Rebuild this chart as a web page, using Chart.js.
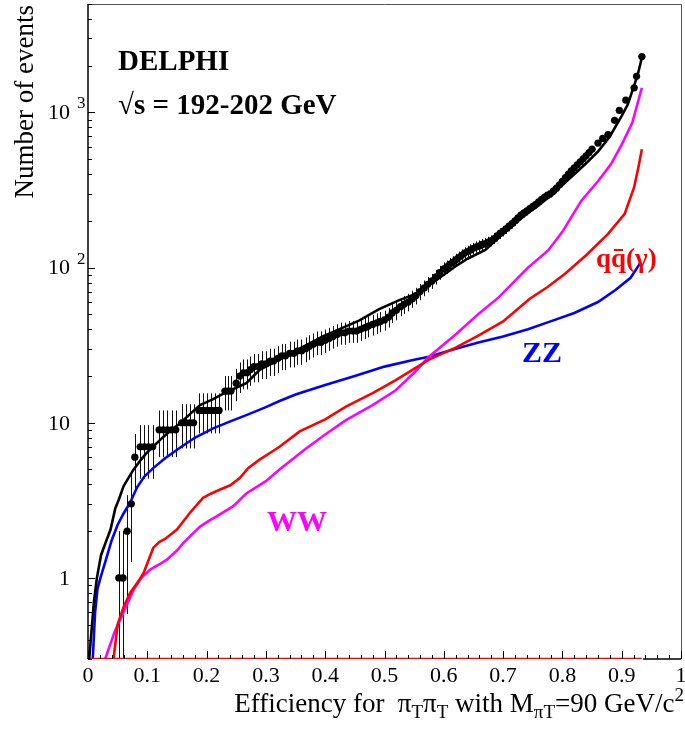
<!DOCTYPE html>
<html>
<head>
<meta charset="utf-8">
<script src="https://cdn.jsdelivr.net/npm/chart.js@4.4.0/dist/chart.umd.min.js"></script>
<style>
  html, body { margin: 0; padding: 0; background: #fff; }
</style>
</head>
<body>
<canvas id="effChart" width="685" height="729"></canvas>
<script>
// observed data (DELPHI, 192-202 GeV)
const dataEff = [
  0.052, 0.059, 0.066, 0.073, 0.079, 0.088, 0.095, 0.102, 0.109,
  0.120, 0.127, 0.134, 0.141, 0.148, 0.158, 0.165, 0.172, 0.178,
  0.187, 0.194, 0.201, 0.208, 0.215, 0.221, 0.231, 0.236, 0.241,
  0.250, 0.256, 0.262, 0.268, 0.274, 0.280, 0.287, 0.293, 0.300,
  0.307, 0.313, 0.320, 0.327, 0.333, 0.340, 0.347, 0.353, 0.360,
  0.367, 0.373, 0.380, 0.387, 0.393, 0.400, 0.407, 0.413, 0.420,
  0.427, 0.433, 0.440, 0.447, 0.453, 0.460, 0.467, 0.473, 0.480,
  0.487, 0.493, 0.500, 0.507, 0.513, 0.520, 0.527, 0.533, 0.540,
  0.547, 0.553, 0.560, 0.567, 0.573, 0.580, 0.587, 0.593, 0.600,
  0.605, 0.610, 0.615, 0.620, 0.625, 0.630, 0.635, 0.640, 0.645,
  0.650, 0.655, 0.660, 0.665, 0.670, 0.675, 0.680, 0.685, 0.690,
  0.695, 0.700, 0.705, 0.710, 0.715, 0.720, 0.725, 0.730, 0.735,
  0.740, 0.745, 0.750, 0.755, 0.760, 0.765, 0.770, 0.775, 0.780,
  0.785, 0.790, 0.795, 0.800, 0.805, 0.810, 0.815, 0.820, 0.825,
  0.830, 0.835, 0.840, 0.845, 0.850, 0.860, 0.868,
  0.877, 0.888, 0.896, 0.907, 0.921, 0.925, 0.934
];
const dataEvents = [
  1, 1, 2, 3, 6, 7, 7, 7, 7,
  9, 9, 9, 9, 9, 10, 10, 10, 10,
  12, 12, 12, 12, 12, 12, 16, 16, 16,
  18, 20, 21, 21, 22, 23, 23, 24, 24,
  25, 25, 26, 27, 27, 28, 28, 29, 29,
  30, 31, 32, 33, 33, 34, 35, 36, 37,
  38, 38, 39, 39, 39, 40, 41, 42, 43,
  44, 45, 46, 48, 51, 53, 56, 58, 60,
  63, 66, 70, 74, 78, 82, 87, 93, 98,
  101, 105, 108, 112, 116, 120, 124, 127, 130,
  133, 136, 138, 141, 143, 146, 149, 154, 160,
  166, 172, 178, 185, 192, 200, 209, 218, 225,
  232, 240, 248, 256, 265, 275, 285, 293, 300,
  312, 325, 342, 360, 380, 400, 420, 440, 460,
  480, 502, 525, 552, 580, 635, 680,
  720, 890, 1030, 1200, 1440, 1710, 2290
];

// total simulation
const totalEff = [0.002, 0.010, 0.015, 0.022, 0.030, 0.038, 0.046, 0.052, 0.060, 0.068, 0.077,
  0.088, 0.099, 0.113, 0.127, 0.141, 0.155, 0.170, 0.189, 0.211, 0.230, 0.250, 0.267, 0.290,
  0.323, 0.360, 0.396, 0.430, 0.457, 0.491, 0.524, 0.558, 0.575, 0.600, 0.620, 0.640, 0.670,
  0.700, 0.720, 0.740, 0.760, 0.780, 0.800, 0.820, 0.840, 0.860, 0.880, 0.900, 0.910, 0.920,
  0.927, 0.934];
const totalEvents = [0.3, 0.7, 1.0, 1.4, 1.7, 2.05, 2.8, 3.2, 3.9, 4.4, 5.0,
  5.7, 6.4, 7.2, 8.1, 9.0, 9.9, 11.2, 13.0, 14.2, 15.5, 16.8, 18.0, 22.0,
  25.5, 30.5, 36.0, 41.0, 45.5, 54.0, 61.5, 69.0, 77.0, 90.0, 102, 114, 130,
  165, 192, 222, 252, 290, 340, 400, 470, 560, 700, 950, 1120, 1450,
  1750, 2250];

// ZZ
const zzEff = [0.008, 0.012, 0.016, 0.021, 0.030, 0.040, 0.050, 0.060, 0.071, 0.083, 0.095,
  0.110, 0.130, 0.155, 0.180, 0.211, 0.240, 0.267, 0.300, 0.323, 0.350, 0.400, 0.450, 0.500,
  0.550, 0.575, 0.620, 0.660, 0.700, 0.742, 0.780, 0.820, 0.860, 0.890, 0.915, 0.932];
const zzEvents = [0.3, 0.6, 0.85, 1.0, 1.3, 1.75, 2.2, 2.6, 3.05, 3.85, 4.5,
  5.1, 5.9, 6.9, 8.0, 9.2, 10.2, 11.2, 12.6, 13.8, 15.2, 17.5, 20.0, 23.0,
  25.5, 26.6, 30.0, 33.0, 36.0, 40.0, 45.0, 51.0, 60.0, 72.0, 86.0, 108];

// q qbar (gamma)
const qqEff = [0.043, 0.050, 0.060, 0.071, 0.085, 0.094, 0.102, 0.110, 0.120, 0.130, 0.150,
  0.172, 0.194, 0.208, 0.222, 0.240, 0.256, 0.270, 0.290, 0.310, 0.323, 0.357, 0.400, 0.435,
  0.480, 0.519, 0.575, 0.620, 0.659, 0.700, 0.745, 0.775, 0.804, 0.840, 0.877, 0.905, 0.921,
  0.928, 0.934];
const qqEvents = [0.3, 0.5, 0.65, 0.8, 0.95, 1.08, 1.3, 1.56, 1.7, 1.78, 2.05,
  2.63, 3.28, 3.5, 3.7, 3.95, 4.4, 5.1, 5.8, 6.5, 7.0, 8.8, 10.5, 12.7,
  15.5, 18.8, 25.5, 30.5, 36.6, 45.0, 63.0, 75.0, 91.0, 120, 165, 222, 330,
  440, 580];

// WW
const wwEff = [0.029, 0.045, 0.060, 0.077, 0.090, 0.105, 0.120, 0.133, 0.150, 0.161, 0.175,
  0.189, 0.205, 0.217, 0.232, 0.245, 0.267, 0.300, 0.323, 0.365, 0.400, 0.435, 0.480, 0.519,
  0.550, 0.575, 0.620, 0.659, 0.692, 0.742, 0.776, 0.800, 0.832, 0.860, 0.882, 0.900, 0.918,
  0.934];
const wwEvents = [0.3, 0.45, 0.6, 0.84, 1.0, 1.13, 1.22, 1.31, 1.5, 1.68, 1.9,
  2.14, 2.35, 2.49, 2.7, 2.9, 3.5, 4.2, 5.0, 6.7, 8.4, 10.4, 13.0, 16.2,
  21.0, 26.6, 37.0, 50.5, 64.0, 100, 129, 170, 270, 360, 465, 620, 860,
  1443];

// axes
const xMin = 0, xMax = 1;
const yMin = 0.3, yMax = 5000;
const xTickValues = [0, 0.1, 0.2, 0.3, 0.4, 0.5, 0.6, 0.7, 0.8, 0.9, 1];
const xTickLabels = ["0", "0.1", "0.2", "0.3", "0.4", "0.5", "0.6", "0.7", "0.8", "0.9", "1"];
const yTickValues = [1, 10, 100, 1000];
const yTickLabels = ["1", "10", "10", "10"];
const yTickExponents = ["", "", "2", "3"];

const SERIF = "'Liberation Serif', 'Times New Roman', serif";

function toPoints(xs, ys) {
  return xs.map((x, i) => ({ x: x, y: ys[i] }));
}

function curve(xs, ys, color, order) {
  return {
    data: toPoints(xs, ys),
    showLine: true,
    borderColor: color,
    backgroundColor: color,
    borderWidth: 2.6,
    pointRadius: 0,
    tension: 0,
    clip: 0,
    order: order,
  };
}

// error bars, frame, ticks and all the text drawn ROOT style
const rootStyle = {
  id: "rootStyle",
  beforeDatasetsDraw(chart) {
    const { ctx, chartArea, scales } = chart;
    const xs = scales.x, ys = scales.y;
    ctx.save();
    ctx.beginPath();
    ctx.rect(chartArea.left, chartArea.top, chartArea.width, chartArea.height);
    ctx.clip();
    ctx.strokeStyle = "#111";
    ctx.lineWidth = 1;
    dataEff.forEach((e, i) => {
      const n = dataEvents[i];
      const err = Math.sqrt(n);
      const px = Math.round(xs.getPixelForValue(e)) + 0.5;
      const lo = n - err > 0 ? ys.getPixelForValue(n - err) : chartArea.bottom + 5;
      const hi = ys.getPixelForValue(n + err);
      ctx.beginPath();
      ctx.moveTo(px, lo);
      ctx.lineTo(px, hi);
      const py = ys.getPixelForValue(n);
      ctx.moveTo(xs.getPixelForValue(e - 0.006), py);
      ctx.lineTo(xs.getPixelForValue(e + 0.006), py);
      ctx.stroke();
    });
    ctx.restore();
  },
  afterDraw(chart) {
    const { ctx, chartArea, scales } = chart;
    const xs = scales.x, ys = scales.y;
    const L = chartArea.left, R = chartArea.right, T = chartArea.top, B = chartArea.bottom;
    ctx.save();

    // frame
    ctx.strokeStyle = "#555";
    ctx.lineWidth = 1;
    ctx.beginPath();
    ctx.moveTo(L, T + 0.5);
    ctx.lineTo(R + 0.5, T + 0.5);
    ctx.lineTo(R + 0.5, B);
    ctx.stroke();
    ctx.strokeStyle = "#000";
    ctx.lineWidth = 1.5;
    ctx.beginPath();
    ctx.moveTo(L, T);
    ctx.lineTo(L, B);
    ctx.stroke();
    ctx.beginPath();
    ctx.moveTo(xs.getPixelForValue(0.936), B);
    ctx.lineTo(R, B);
    ctx.stroke();

    // x ticks (inside)
    ctx.lineWidth = 1;
    for (let k = 0; k <= 50; k++) {
      const v = k * 0.02;
      const px = Math.round(xs.getPixelForValue(v)) + 0.5;
      const len = k % 5 === 0 ? 8 : 4;
      ctx.beginPath();
      ctx.moveTo(px, B);
      ctx.lineTo(px, B - len);
      ctx.stroke();
    }
    // y ticks (inside)
    for (let d = -1; d <= 3; d++) {
      for (let m = 1; m <= 9; m++) {
        const v = m * Math.pow(10, d);
        if (v < yMin || v > yMax) continue;
        const py = Math.round(ys.getPixelForValue(v)) + 0.5;
        const len = m === 1 ? 7 : 4;
        ctx.beginPath();
        ctx.moveTo(L, py);
        ctx.lineTo(L + len, py);
        ctx.stroke();
      }
    }

    // tick labels
    ctx.fillStyle = "#000";
    ctx.font = "22px " + SERIF;
    ctx.textAlign = "center";
    ctx.textBaseline = "middle";
    xTickValues.forEach((v, i) => {
      ctx.fillText(xTickLabels[i], xs.getPixelForValue(v), B + 17);
    });
    yTickValues.forEach((v, i) => {
      const py = ys.getPixelForValue(v);
      ctx.font = "22px " + SERIF;
      ctx.textAlign = "right";
      ctx.textBaseline = "middle";
      ctx.fillText(yTickLabels[i], 70, py + 1);
      if (yTickExponents[i]) {
        ctx.font = "17px " + SERIF;
        ctx.textAlign = "left";
        ctx.textBaseline = "alphabetic";
        ctx.fillText(yTickExponents[i], 77, py - 4);
      }
    });

    // y title
    ctx.save();
    ctx.translate(33, 5);
    ctx.rotate(-Math.PI / 2);
    ctx.font = "27px " + SERIF;
    ctx.textAlign = "right";
    ctx.textBaseline = "alphabetic";
    ctx.fillText("Number of events", 0, 0);
    ctx.restore();

    // x title with sub/superscripts, right aligned
    const parts = [
      ["Efficiency for  \u03c0", 0], ["T", 1], ["\u03c0", 0], ["T", 1],
      [" with M", 0], ["\u03c0T", 1], ["=90 GeV/c", 0], ["2", -1],
    ];
    const fontFor = (s) => (s === 0 ? "27px " : "19px ") + SERIF;
    let total = 0;
    parts.forEach(([t, s]) => { ctx.font = fontFor(s); total += ctx.measureText(t).width; });
    let cx = 684 - total;
    const base = 712;
    ctx.textAlign = "left";
    ctx.textBaseline = "alphabetic";
    parts.forEach(([t, s]) => {
      ctx.font = fontFor(s);
      const dy = s === 1 ? 6 : s === -1 ? -11 : 0;
      ctx.fillText(t, cx, base + dy);
      cx += ctx.measureText(t).width;
    });

    // labels inside the frame
    ctx.font = "bold 29px " + SERIF;
    ctx.fillText("DELPHI", 118, 70);
    ctx.fillText("\u221as = 192-202 GeV", 118, 114);

    ctx.fillStyle = "#0000ff";
    ctx.font = "bold 30px " + SERIF;
    ctx.fillText("ZZ", 522, 362);
    ctx.fillStyle = "#ff00ff";
    ctx.fillText("WW", 267, 531);

    ctx.fillStyle = "#ff0000";
    ctx.strokeStyle = "#ff0000";
    ctx.font = "bold 27px " + SERIF;
    let qx = 596;
    const qy = 267;
    const qw = ctx.measureText("q").width;
    ctx.fillText("q", qx, qy);
    qx += qw;
    ctx.fillText("q", qx, qy);
    ctx.lineWidth = 2;
    ctx.beginPath();
    ctx.moveTo(qx + 3, 250);
    ctx.lineTo(qx + qw - 3, 250);
    ctx.stroke();
    qx += qw;
    ctx.fillText("(\u03b3)", qx, qy);

    ctx.restore();
  },
};

const ctx = document.getElementById("effChart");
const config = {
  type: "scatter",
  data: {
    datasets: [
      {
        data: toPoints(dataEff, dataEvents),
        showLine: false,
        pointRadius: 3.6,
        pointBorderWidth: 0,
        backgroundColor: "#000",
        borderColor: "#000",
        clip: 0,
        order: 0,
      },
      curve(totalEff, totalEvents, "#000000", 1),
      curve(qqEff, qqEvents, "#ff0000", 2),
      // red histogram running along the lower edge where it is empty
      curve([xMin, qqEff[qqEff.length - 1]], [yMin, yMin], "#ff0000", 2),
      curve(wwEff, wwEvents, "#ff00ff", 3),
      curve(zzEff, zzEvents, "#0000ff", 4),
    ],
  },
  options: {
    responsive: false,
    animation: false,
    devicePixelRatio: 1,
    layout: { padding: { left: 88, top: 3, right: 1, bottom: 70 } },
    plugins: {
      legend: { display: false },
      tooltip: { enabled: false },
    },
    scales: {
      x: { type: "linear", min: xMin, max: xMax, display: false },
      y: { type: "logarithmic", min: yMin, max: yMax, display: false },
    },
  },
  plugins: [rootStyle],
};
const effChart = new Chart(ctx, config);
</script>
</body>
</html>
